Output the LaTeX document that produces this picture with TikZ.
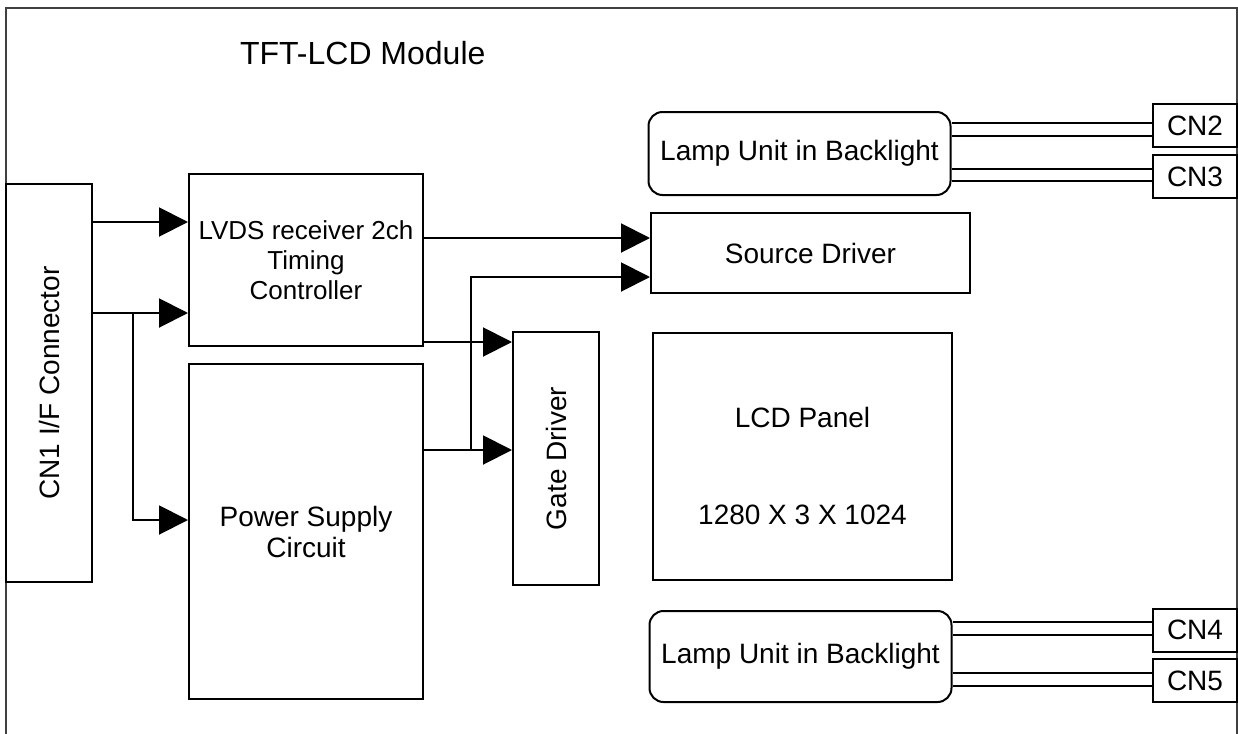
\documentclass[tikz,border=0pt]{standalone}
\usepackage{fontspec}
\setmainfont{Liberation Sans}
\usetikzlibrary{arrows.meta,calc}

\begin{document}
\begin{tikzpicture}[x=0.5pt,y=-0.5pt,
    box/.style={draw,line width=1pt,inner sep=0pt,align=center,font=\fontsize{14}{15.5}\selectfont},
    lamp/.style={box,rounded corners=7pt,minimum width=151pt},
    conn/.style={box,minimum width=42pt,minimum height=21.5pt},
    arr/.style={line width=1pt,-{Triangle[length=14.5pt,width=14.5pt]}},
    wire/.style={line width=1pt}]
  \useasboundingbox (0,0) rectangle (1238,734);

  % Module frame
  \draw[line width=1.2pt,black!75] (6,734) -- (6,8) -- (1237,8) -- (1237,734);
  \node[anchor=base west,font=\fontsize{16}{18}\selectfont] (title) at (233,64) {TFT-LCD Module};

  % Blocks
  \node[box,minimum width=43pt,minimum height=199pt] (cn1) at (49,383) {\rotatebox{90}{CN1 I/F Connector}};
  \node[box,minimum width=117pt,minimum height=86pt,font=\fontsize{13}{15}\selectfont] (lvds) at (306,260) {LVDS receiver 2ch\\Timing\\Controller};
  \node[box,minimum width=117pt,minimum height=167.5pt] (psu) at (306,531.5) {Power Supply\\Circuit};
  \node[box,minimum width=159.5pt,minimum height=40pt] (src) at (810.5,253) {Source Driver};
  \node[box,minimum width=43pt,minimum height=126.5pt] (gate) at (556,458.5) {\rotatebox{90}{Gate Driver}};
  \node[box,minimum width=149.5pt,minimum height=123.5pt] (lcd) at (802.5,456.5) {};
  \node[align=center,inner sep=0pt,font=\fontsize{14}{15.5}\selectfont] (lcdtext) at ([yshift=-4.5pt]lcd.center) {LCD Panel\\[33pt]1280 X 3 X 1024};

  % Backlight lamps and connectors
  \node[lamp,minimum height=41.5pt] (lampT) at (799.5,153.5) {Lamp Unit in Backlight};
  \node[lamp,minimum height=45.5pt] (lampB) at (800.5,656.5) {Lamp Unit in Backlight};
  \node[conn] (cnB) at (1195,125.5) {CN2};
  \node[conn] (cnC) at (1195,176.5) {CN3};
  \node[conn] (cnD) at (1195,630) {CN4};
  \node[conn] (cnE) at (1195,680.5) {CN5};
  \foreach \cn/\lmp/\a/\b in {cnB/lampT/1.25pt/-5.25pt, cnC/lampT/3.75pt/-2.25pt,
                              cnD/lampB/4pt/-2.5pt, cnE/lampB/3.75pt/-2.75pt} {
    \draw[wire] ([yshift=\a]\cn.west -| \lmp.east) -- ([yshift=\a]\cn.west);
    \draw[wire] ([yshift=\b]\cn.west -| \lmp.east) -- ([yshift=\b]\cn.west);
  }

  % Signal paths
  \draw[arr] ([yshift=19pt]lvds.west -| cn1.east) -- ([yshift=19pt]lvds.west);
  \draw[arr] ([yshift=-26.5pt]lvds.west -| cn1.east) -- ([yshift=-26.5pt]lvds.west);
  \coordinate (j1) at (133,313);
  \draw[arr] (j1) |- ([yshift=5.75pt]psu.west);
  \draw[arr] ([yshift=7.5pt]src.west -| lvds.east) -- ([yshift=7.5pt]src.west);
  \draw[arr] ([yshift=58.25pt]gate.west -| lvds.east) -- ([yshift=58.25pt]gate.west);
  \draw[arr] ([yshift=4.25pt]gate.west -| psu.east) -- ([yshift=4.25pt]gate.west);
  \coordinate (j2) at (471,450);
  \draw[arr] (j2) |- ([yshift=-12pt]src.west);
\end{tikzpicture}
\end{document}
